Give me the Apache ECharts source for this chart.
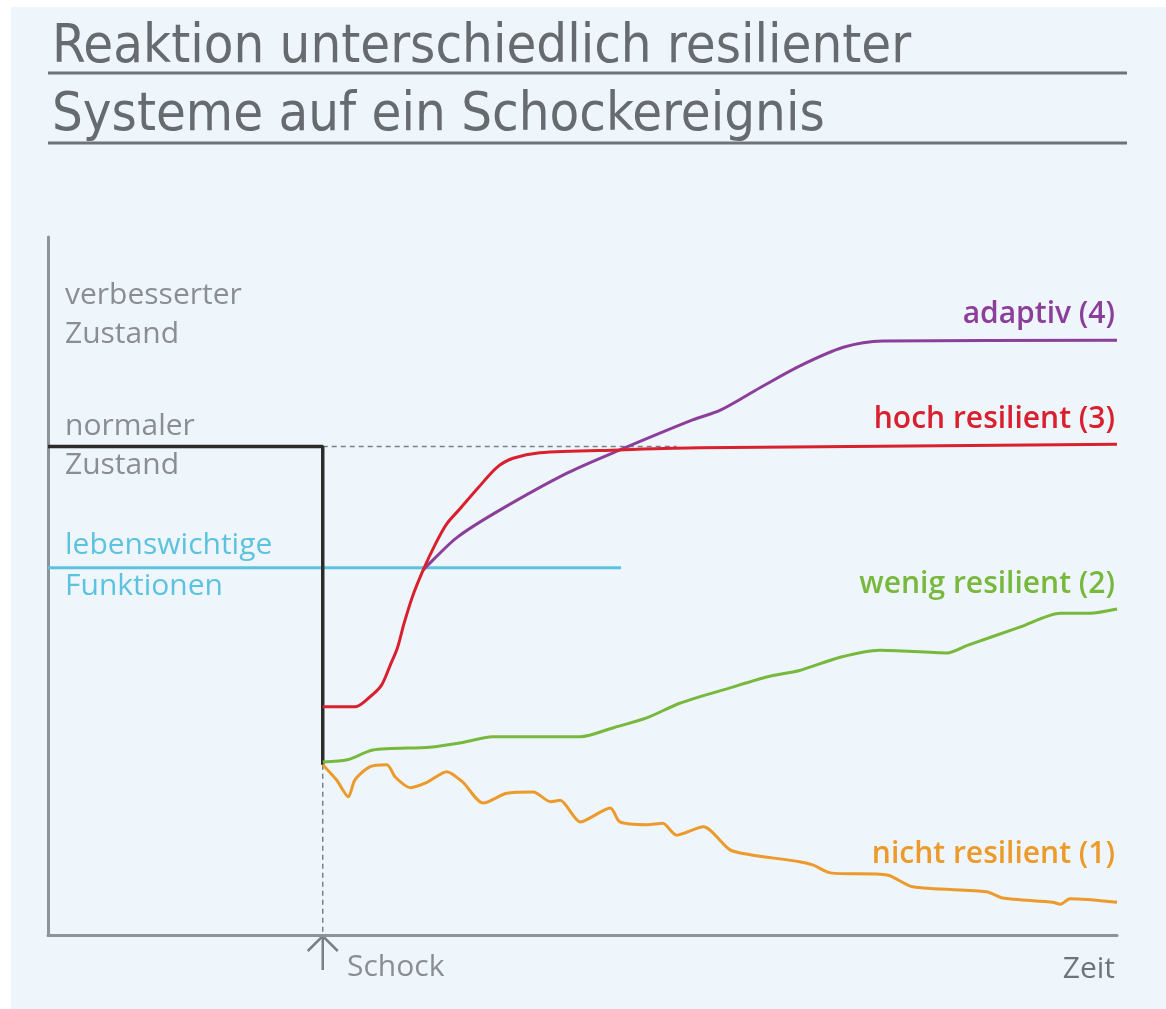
<!DOCTYPE html>
<html>
<head>
<meta charset="utf-8">
<script src="https://cdn.jsdelivr.net/npm/echarts@6/dist/echarts.min.js"></script>
<style>
  html, body { margin: 0; padding: 0; background: #ffffff; }
  #container { position: absolute; left: 11px; top: 7px; width: 1155px; height: 1002px; background: #eef5fb; }
</style>
</head>
<body>
<div id="container"></div>
<script>
// Zeitachse 0..100, Zustand 0..100
var shockX = 25.7;
var normalLevel = 70;
var vitalLevel = 52.6;
var vitalEnd = 53.6;
var dashEnd = 58.8;
var dropLevel = 24.4;

var normalLine = [[0, normalLevel], [shockX, normalLevel], [shockX, dropLevel]];
var vitalLine = [[0, vitalLevel], [vitalEnd, vitalLevel]];
var dashH = [[shockX, normalLevel], [dashEnd, normalLevel]];
var dashV = [[shockX, dropLevel], [shockX, 0]];

// hoch resilient (3)
var hochData = [
  [25.7, 32.7], [28.7, 32.7], [30.1, 34.1], [31.2, 35.8], [32.0, 38.6], [32.7, 41.2],
  [33.3, 44.6], [34.1, 48.5], [35.1, 52.3], [36.2, 55.9], [37.3, 58.9], [38.5, 61.0],
  [40.2, 64.0], [42.0, 67.0], [43.5, 68.3], [46.0, 69.1], [53.5, 69.5], [61.0, 69.8],
  [100, 70.3]
];

// adaptiv (4)
var adaptivData = [
  [35.1, 52.3], [36.0, 53.7], [38.3, 57.0], [42.3, 60.9], [48.6, 66.2], [53.5, 69.5],
  [60.3, 73.8], [62.9, 75.2], [66.6, 78.4], [70.3, 81.5], [74.4, 84.2], [78.1, 85.1],
  [100, 85.2]
];

// wenig resilient (2)
var wenigData = [
  [25.7, 24.8], [28.0, 25.1], [30.4, 26.5], [35.7, 26.9], [38.5, 27.5], [41.6, 28.4],
  [46.0, 28.4], [49.8, 28.4], [52.9, 29.7], [56.0, 31.1], [59.1, 33.2], [63.8, 35.4],
  [67.3, 37.0], [70.3, 37.9], [74.1, 39.8], [77.8, 40.8], [84.1, 40.4], [86.0, 41.5],
  [90.9, 44.1], [94.7, 46.1], [97.5, 46.1], [100, 46.7]
];

// nicht resilient (1)
var nichtData = [
  [25.7, 24.4], [27.0, 22.2], [28.1, 19.8], [28.7, 22.2], [30.1, 24.1], [31.7, 24.4],
  [32.5, 22.6], [33.9, 21.1], [35.5, 21.9], [37.3, 23.4], [38.8, 21.9], [40.7, 18.9],
  [42.9, 20.3], [45.4, 20.5], [47.0, 19.1], [47.9, 19.3], [49.8, 16.2], [52.6, 18.2],
  [53.5, 16.2], [56.0, 15.8], [57.5, 16.0], [58.8, 14.3], [61.3, 15.5], [63.8, 12.2],
  [65.7, 11.5], [70.3, 10.5], [71.6, 10.0], [73.2, 8.9], [78.5, 8.6], [80.9, 6.9],
  [87.8, 6.2], [89.3, 5.3], [94.0, 4.7], [94.7, 4.4], [95.6, 5.2], [100, 4.7]
];

var titleLines = ['Reaktion unterschiedlich resilienter', 'Systeme auf ein Schockereignis'];

var colors = {
  hoch: '#d9202e', adaptiv: '#8c3f9a', wenig: '#78b83c', nicht: '#ec9a2b',
  vital: '#5cc3df', normal: '#2b2b2b', axis: '#8d939b', text: '#8a8e94', title: '#676b70'
};

var chart = echarts.init(document.getElementById('container'));

function lineSeries(name, data, color, width, smooth, z, type) {
  return {
    name: name, type: 'line', data: data, showSymbol: false, symbol: 'none',
    smooth: smooth, z: z, silent: true,
    lineStyle: { color: color, width: width, type: type || 'solid' }
  };
}

var labelFont = '"Open Sans", Roboto, sans-serif';
// Textposition relativ zum Container (Seite minus 11/7)
function txt(x, y, s, color, align, weight) {
  return {
    type: 'text',
    style: {
      x: x - 11, y: y - 7, text: s, fill: color, align: align || 'left', verticalAlign: 'middle',
      font: (weight || 'normal') + ' 30px ' + labelFont
    }
  };
}

chart.setOption({
  backgroundColor: '#eef5fb',
  animation: false,
  grid: { left: 37, right: 49, top: 230, bottom: 74 },
  xAxis: {
    type: 'value', min: 0, max: 100,
    axisLine: { show: true, lineStyle: { color: colors.axis, width: 3 } },
    axisTick: { show: false }, axisLabel: { show: false }, splitLine: { show: false }
  },
  yAxis: {
    type: 'value', min: 0, max: 100,
    axisLine: { show: true, lineStyle: { color: colors.axis, width: 3 } },
    axisTick: { show: false }, axisLabel: { show: false }, splitLine: { show: false }
  },
  series: [
    lineSeries('dashH', dashH, '#7b7f85', 1.5, false, 1, [5, 4]),
    lineSeries('dashV', dashV, '#7b7f85', 1.5, false, 1, [5, 4]),
    lineSeries('lebenswichtige Funktionen', vitalLine, colors.vital, 3, false, 2),
    lineSeries('normaler Zustand', normalLine, colors.normal, 3.5, false, 3),
    lineSeries('nicht resilient (1)', nichtData, colors.nicht, 3, 0.25, 4),
    lineSeries('wenig resilient (2)', wenigData, colors.wenig, 3, 0.25, 4),
    lineSeries('adaptiv (4)', adaptivData, colors.adaptiv, 3, 0.3, 4),
    lineSeries('hoch resilient (3)', hochData, colors.hoch, 3, 0.3, 5)
  ]
});

var base = chart.convertToPixel({ gridIndex: 0 }, [shockX, 0]);
var titleFont = '54px "DejaVu Sans Condensed", "Liberation Sans Narrow", sans-serif';

chart.setOption({
  graphic: [
    { type: 'text', style: { x: 41, y: 41, text: titleLines[0], fill: colors.title, font: titleFont, verticalAlign: 'middle' } },
    { type: 'line', shape: { x1: 37, y1: 66, x2: 1116, y2: 66 }, style: { stroke: '#6e7378', lineWidth: 3 } },
    { type: 'text', style: { x: 41, y: 109, text: titleLines[1], fill: colors.title, font: titleFont, verticalAlign: 'middle' } },
    { type: 'line', shape: { x1: 37, y1: 136, x2: 1116, y2: 136 }, style: { stroke: '#6e7378', lineWidth: 3 } },

    txt(65, 295, 'verbesserter', colors.text),
    txt(65, 334, 'Zustand', colors.text),
    txt(65, 426, 'normaler', colors.text),
    txt(65, 465, 'Zustand', colors.text),
    txt(65, 545, 'lebenswichtige', colors.vital),
    txt(65, 586, 'Funktionen', colors.vital),

    txt(1115, 314, 'adaptiv (4)', colors.adaptiv, 'right', '600'),
    txt(1115, 419, 'hoch resilient (3)', colors.hoch, 'right', '600'),
    txt(1115, 584, 'wenig resilient (2)', colors.wenig, 'right', '600'),
    txt(1115, 854, 'nicht resilient (1)', colors.nicht, 'right', '600'),

    txt(347, 967, 'Schock', colors.text),
    txt(1115, 969, 'Zeit', '#6f747b', 'right'),

    { type: 'polyline', shape: { points: [[base[0], base[1] + 35], [base[0], base[1]]] }, style: { stroke: '#7b8088', lineWidth: 2.5, fill: null } },
    { type: 'polyline', shape: { points: [[base[0] - 15, base[1] + 16], [base[0], base[1] + 1], [base[0] + 15, base[1] + 16]] }, style: { stroke: '#7b8088', lineWidth: 2.5, fill: null } }
  ]
});
</script>
</body>
</html>
